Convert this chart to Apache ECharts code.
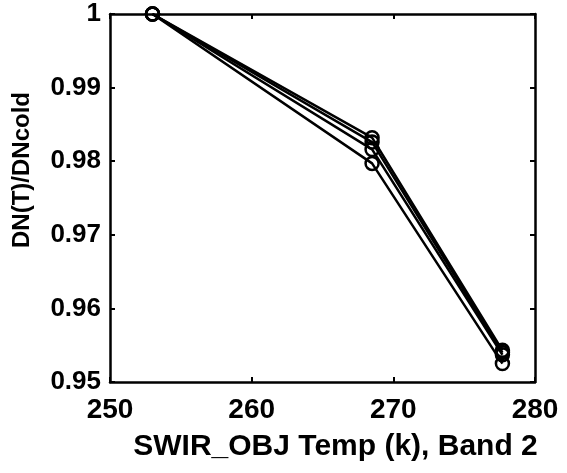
<!DOCTYPE html>
<html>
<head>
<meta charset="utf-8">
<script src="https://cdn.jsdelivr.net/npm/echarts@6/dist/echarts.min.js"></script>
<style>html,body{margin:0;padding:0;background:#fff;}#c{width:567px;height:473px;}</style>
</head>
<body>
<div id="c"></div>
<script>
var temps = [253, 268.5, 277.7];
var run1 = [1, 0.9832, 0.9543];
var run2 = [1, 0.9826, 0.9540];
var run3 = [1, 0.9816, 0.9537];
var run4 = [1, 0.9797, 0.9525];
var xTicks = [250, 260, 270, 280];
var yTicks = [0.95, 0.96, 0.97, 0.98, 0.99, 1];
var xTitle = 'SWIR_OBJ Temp (k), Band 2';
var yTitle = 'DN(T)/DNcold';

function pairs(vals){ return temps.map(function(t,i){ return [t, vals[i]]; }); }
var font = '"Liberation Sans", Arial, Helvetica, sans-serif';
function mkSeries(vals){
  return {
    type: 'line', data: pairs(vals), xAxisIndex: 0, yAxisIndex: 0,
    symbol: 'circle', symbolSize: 13, showSymbol: true, clip: false,
    lineStyle: {color: '#000', width: 2.5},
    itemStyle: {color: 'rgba(0,0,0,0)', borderColor: '#000', borderWidth: 2.5},
    emphasis: {disabled: true},
    animation: false
  };
}
var chart = echarts.init(document.getElementById('c'), null, {renderer: 'canvas'});
chart.setOption({
  backgroundColor: '#fff',
  animation: false,
  grid: {left: 110, right: 32, top: 14, bottom: 91, show: false},
  xAxis: [{
    type: 'value', min: xTicks[0], max: xTicks[xTicks.length-1], interval: 10,
    name: xTitle, nameLocation: 'middle', nameGap: 50,
    nameTextStyle: {fontFamily: font, fontWeight: 'bold', fontSize: 30, color: '#000', padding: [0,0,0,26]},
    axisLine: {show: true, onZero: false, lineStyle: {color: '#000', width: 2.5}},
    axisTick: {show: true, inside: true, length: 5, lineStyle: {color: '#000', width: 2}},
    axisLabel: {fontFamily: font, fontWeight: 'bold', fontSize: 28, color: '#000', margin: 14},
    splitLine: {show: false}
  },{
    type: 'value', position: 'top', min: xTicks[0], max: xTicks[xTicks.length-1], interval: 10,
    axisLine: {show: true, onZero: false, lineStyle: {color: '#000', width: 2.5}},
    axisTick: {show: true, inside: true, length: 5, lineStyle: {color: '#000', width: 2}},
    axisLabel: {show: false}, splitLine: {show: false}
  }],
  yAxis: [{
    type: 'value', min: yTicks[0], max: yTicks[yTicks.length-1], interval: 0.01,
    name: yTitle, nameLocation: 'middle', nameGap: 76, nameRotate: 90,
    nameTextStyle: {fontFamily: font, fontWeight: 'bold', fontSize: 24, color: '#000', padding: [0,0,0,56]},
    axisLine: {show: true, onZero: false, lineStyle: {color: '#000', width: 2.5}},
    axisTick: {show: true, inside: true, length: 5, lineStyle: {color: '#000', width: 2}},
    axisLabel: {fontFamily: font, fontWeight: 'bold', fontSize: 26, color: '#000', margin: 9,
      formatter: function(v){ return String(Math.round(v*100)/100); }},
    splitLine: {show: false}
  },{
    type: 'value', position: 'right', min: yTicks[0], max: yTicks[yTicks.length-1], interval: 0.01,
    axisLine: {show: true, onZero: false, lineStyle: {color: '#000', width: 2.5}},
    axisTick: {show: true, inside: true, length: 5, lineStyle: {color: '#000', width: 2}},
    axisLabel: {show: false}, splitLine: {show: false}
  }],
  series: [mkSeries(run1), mkSeries(run2), mkSeries(run3), mkSeries(run4)]
});
</script>
</body>
</html>
